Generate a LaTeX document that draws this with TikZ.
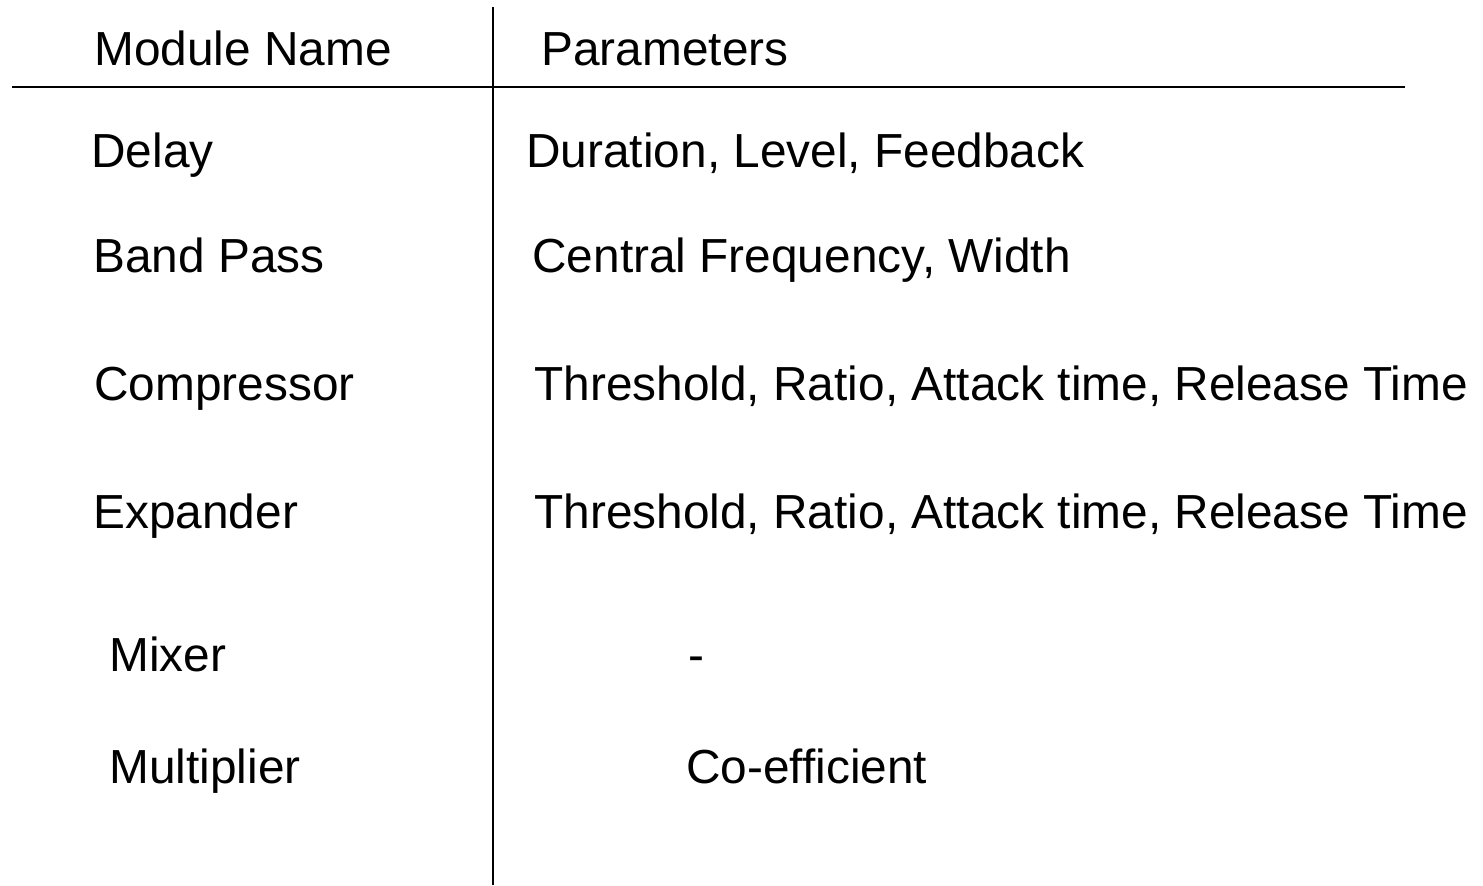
\documentclass[tikz,border=0pt]{standalone}
\usepackage{fontspec}
\setmainfont{Liberation Sans}
\begin{document}
\begin{tikzpicture}[x=0.5pt,y=-0.5pt,
  cell/.style={anchor=base west,inner sep=0pt,font=\fontsize{23.9}{28}\selectfont},
  rule/.style={line width=1pt,black}]
\useasboundingbox (0,0) rectangle (1483,885);
\coordinate (vtop) at (492.7,7);
\coordinate (vbot) at (492.7,885);
\coordinate (hl) at (12,87);
\coordinate (hr) at (1405,87);
\draw[rule] (vtop) -- (vbot);
\draw[rule] (hl) -- (hr);
\node[cell] (h1) at (94,65) {Module Name};
\node[cell] (h2) at (541,65) {Parameters};
\node[cell] (m1) at (91,167) {Delay};
\node[cell] (p1) at (526,167) {Duration, Level, Feedback};
\node[cell] (m2) at (93,272) {Band Pass};
\node[cell] (p2) at (532,272) {Central Frequency, Width};
\node[cell] (m3) at (94,400) {Compressor};
\node[cell] (p3) at (534,400) {Threshold, Ratio, Attack time, Release Time};
\node[cell] (m4) at (93,528) {Expander};
\node[cell] (p4) at (534,528) {Threshold, Ratio, Attack time, Release Time};
\node[cell] (m5) at (109,671) {Mixer};
\node[cell] (p5) at (688,671) {-};
\node[cell] (m6) at (109,783) {Multiplier};
\node[cell] (p6) at (686,783) {Co-efficient};
\end{tikzpicture}
\end{document}
